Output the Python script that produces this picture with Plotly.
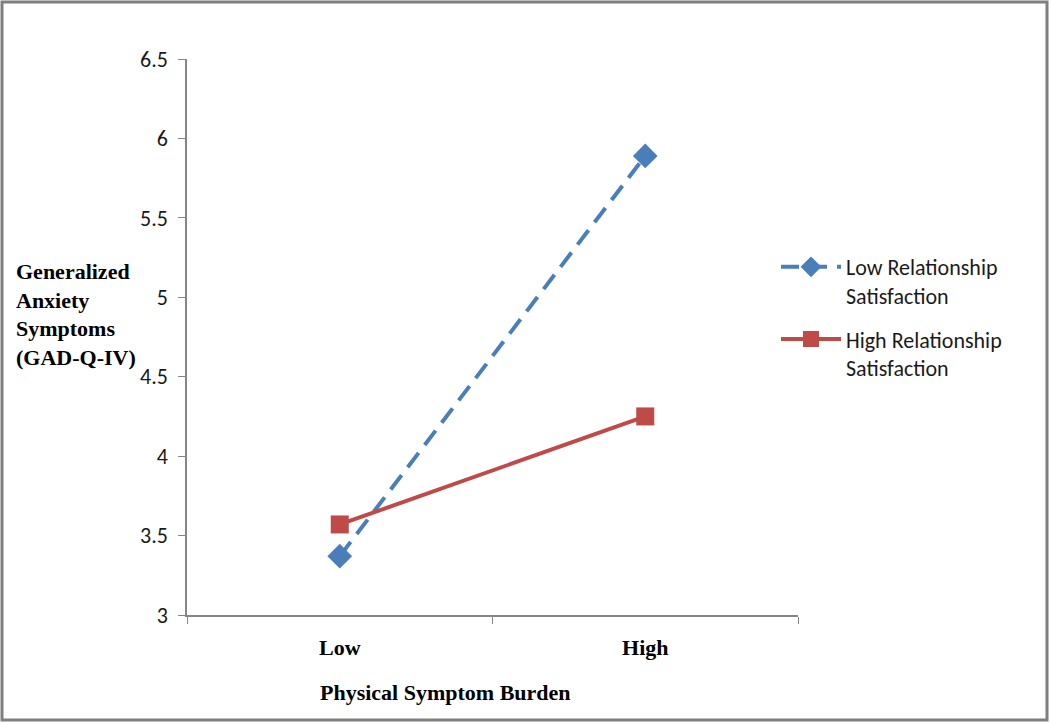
import plotly.graph_objects as go

categories = ["Low", "High"]
low_sat = [3.37, 5.89]
high_sat = [3.57, 4.25]
y_ticks = [3, 3.5, 4, 4.5, 5, 5.5, 6, 6.5]
y_tick_labels = ["3", "3.5", "4", "4.5", "5", "5.5", "6", "6.5"]

L, R, T, B = 187, 252, 59, 108
W, H = 1050, 723
pw, ph = W - L - R, H - T - B

def px(x):
    return (x - L) / pw

def py(y):
    return (H - B - y) / ph

fig = go.Figure()
fig.add_trace(go.Scatter(
    x=categories, y=low_sat, mode="lines+markers",
    name="Low Relationship<br>Satisfaction", legendgroup="a",
    line=dict(color="#4A7EBB", width=4, dash="18px,10px"),
    marker=dict(symbol="diamond", size=19, color="#4A7EBB"),
))
fig.add_trace(go.Scatter(
    x=categories, y=high_sat, mode="lines+markers",
    name="High Relationship<br>Satisfaction", legendgroup="b",
    line=dict(color="#BE4B48", width=4),
    marker=dict(symbol="square", size=18, color="#BE4B48"),
))

axis_color = "#868686"
fig.update_layout(
    width=W, height=H,
    margin=dict(l=L, r=R, t=T, b=B),
    paper_bgcolor="white", plot_bgcolor="white",
    showlegend=True,
    legend=dict(
        x=px(776), y=py(246), xanchor="left", yanchor="top",
        font=dict(family="Carlito, Lato, sans-serif", size=22, color="#1a1a1a"),
        tracegroupgap=12, bgcolor="rgba(0,0,0,0)", valign="top",
        itemwidth=60,
    ),
    xaxis=dict(
        type="category", range=[-0.5, 1.5],
        showline=True, linecolor=axis_color, linewidth=1.5,
        ticks="outside", tickson="boundaries", ticklen=7, tickcolor=axis_color,
        showgrid=False, zeroline=False,
        tickfont=dict(family="Liberation Serif, Times New Roman, serif", size=22, color="black", weight="bold"),
        ticklabelstandoff=12,
    ),
    yaxis=dict(
        range=[3, 6.5], tickvals=y_ticks, ticktext=y_tick_labels,
        showline=True, linecolor=axis_color, linewidth=1.5,
        ticks="outside", ticklen=7, tickcolor=axis_color,
        showgrid=False, zeroline=False,
        tickfont=dict(family="Carlito, Lato, sans-serif", size=22, color="#1a1a1a"),
        ticklabelstandoff=6,
    ),
    annotations=[
        dict(text="<b>Generalized<br>Anxiety<br>Symptoms<br>(GAD-Q-IV)</b>",
             xref="paper", yref="paper", x=px(14), y=py(314),
             xanchor="left", yanchor="middle", align="left", showarrow=False,
             font=dict(family="Liberation Serif, Times New Roman, serif", size=22, color="black")),
        dict(text="<b>Physical Symptom Burden</b>",
             xref="paper", yref="paper", x=px(445), y=py(692),
             xanchor="center", yanchor="middle", showarrow=False,
             font=dict(family="Liberation Serif, Times New Roman, serif", size=22, color="black")),
    ],
    shapes=[
        dict(type="rect", xref="paper", yref="paper",
             x0=px(2), x1=px(1047), y0=py(720), y1=py(2),
             line=dict(color="#7f7f7f", width=3), fillcolor="rgba(0,0,0,0)", layer="below"),
    ],
)

fig.write_html("out.html", post_script="document.body.style.margin='0';",
               config={"displayModeBar": False})
